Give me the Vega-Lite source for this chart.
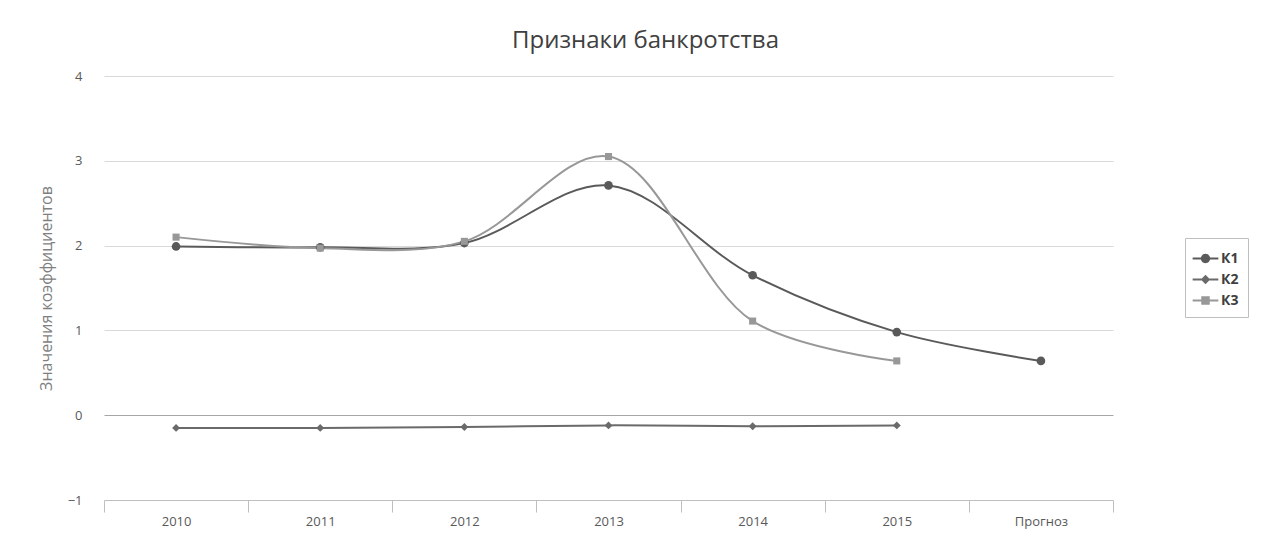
{
  "$schema": "https://vega.github.io/schema/vega-lite/v6.json",
  "width": 1009,
  "height": 424,
  "autosize": {"type": "none"},
  "padding": {"left": 104, "top": 76, "right": 160, "bottom": 49},
  "background": "white",
  "config": {"view": {"stroke": null}, "font": "Open Sans"},
  "title": {"text": "Признаки банкротства", "fontSize": 24, "fontWeight": "normal", "color": "#404040", "font": "Open Sans", "dx": 37, "offset": 17},
  "data": {"values": [
    {"year": "2010", "series": "К1", "value": 1.99},
    {"year": "2011", "series": "К1", "value": 1.98},
    {"year": "2012", "series": "К1", "value": 2.03},
    {"year": "2013", "series": "К1", "value": 2.71},
    {"year": "2014", "series": "К1", "value": 1.65},
    {"year": "2015", "series": "К1", "value": 0.98},
    {"year": "Прогноз", "series": "К1", "value": 0.64},
    {"year": "2010", "series": "К2", "value": -0.15},
    {"year": "2011", "series": "К2", "value": -0.15},
    {"year": "2012", "series": "К2", "value": -0.14},
    {"year": "2013", "series": "К2", "value": -0.12},
    {"year": "2014", "series": "К2", "value": -0.13},
    {"year": "2015", "series": "К2", "value": -0.12},
    {"year": "2010", "series": "К3", "value": 2.10},
    {"year": "2011", "series": "К3", "value": 1.97},
    {"year": "2012", "series": "К3", "value": 2.05},
    {"year": "2013", "series": "К3", "value": 3.05},
    {"year": "2014", "series": "К3", "value": 1.11},
    {"year": "2015", "series": "К3", "value": 0.64}
  ]},
  "encoding": {
    "x": {
      "field": "year", "type": "ordinal",
      "sort": ["2010", "2011", "2012", "2013", "2014", "2015", "Прогноз"],
      "scale": {"type": "band", "paddingInner": 0, "paddingOuter": 0},
      "axis": {"title": null, "labelAngle": 0, "domainColor": "#bfbfbf", "tickColor": "#bfbfbf", "tickSize": 12, "labelPadding": 3, "labelFontSize": 13, "labelColor": "#595959", "tickBand": "extent", "grid": false}
    },
    "y": {
      "field": "value", "type": "quantitative",
      "scale": {"domain": [-1, 4], "nice": false, "zero": false},
      "axis": {
        "values": [-1, 0, 1, 2, 3, 4],
        "grid": true,
        "gridColor": {"condition": {"test": "datum.value === 0", "value": "#a6a6a6"}, "value": "#d9d9d9"},
        "gridOpacity": {"condition": {"test": "datum.value === -1", "value": 0}, "value": 1},
        "domain": false, "ticks": false, "labelPadding": 22, "labelFontSize": 13, "labelColor": "#595959",
        "title": "Значения коэффициентов", "titleFontSize": 16, "titleFontWeight": "normal", "titleColor": "#7f7f7f", "titlePadding": 13
      }
    }
  },
  "layer": [
    {
      "mark": {"type": "line", "interpolate": "catmull-rom", "strokeWidth": 2},
      "encoding": {
        "color": {"field": "series", "type": "nominal", "scale": {"domain": ["К1", "К2", "К3"], "range": ["#5a5a5a", "#6a6a6a", "#989898"]}, "legend": null}
      }
    },
    {
      "mark": {"type": "point", "filled": true, "opacity": 1},
      "encoding": {
        "color": {"field": "series", "type": "nominal", "scale": {"domain": ["К1", "К2", "К3"], "range": ["#5a5a5a", "#6a6a6a", "#989898"]}, "legend": null},
        "shape": {"field": "series", "type": "nominal", "scale": {"domain": ["К1", "К2", "К3"], "range": ["circle", "diamond", "square"]}, "legend": null},
        "size": {"field": "series", "type": "nominal", "scale": {"domain": ["К1", "К2", "К3"], "range": [75, 50, 80]}, "legend": null}
      }
    },
    {
      "transform": [{"filter": "false"}],
      "mark": {"type": "point", "filled": true, "opacity": 1},
      "encoding": {
        "color": {"field": "series", "type": "nominal", "scale": {"domain": ["К1", "К2", "К3"], "range": ["#5a5a5a", "#6a6a6a", "#989898"]},
          "legend": {"title": null, "orient": "none", "legendX": 1081, "legendY": 162, "strokeColor": "#bfbfbf", "padding": 9, "symbolSize": 500, "symbolOpacity": 1, "labelFontSize": 14, "labelFontWeight": "bold", "labelColor": "#404040", "labelFont": "Open Sans", "rowPadding": 2, "labelOffset": 4, "symbolStrokeWidth": 0,
            "labelExpr": "datum.label + '\u00a0\u00a0\u00a0'",
            "encode": {"symbols": {"update": {"opacity": {"value": 1}}}}}},
        "shape": {"field": "series", "type": "nominal", "scale": {"domain": ["К1", "К2", "К3"], "range": [
          "M-1.15,-0.09H-0.36V0.09H-1.15Z M0.36,-0.09H1.15V0.09H0.36Z M0,-0.42A0.42,0.42 0 1,1 0,0.42A0.42,0.42 0 1,1 0,-0.42Z",
          "M-1.15,-0.09H-0.36V0.09H-1.15Z M0.36,-0.09H1.15V0.09H0.36Z M0,-0.42L0.42,0L0,0.42L-0.42,0Z",
          "M-1.15,-0.09H-0.36V0.09H-1.15Z M0.36,-0.09H1.15V0.09H0.36Z M-0.38,-0.38H0.38V0.38H-0.38Z"
        ]}}
      }
    }
  ],
  "resolve": {"scale": {"color": "independent", "shape": "independent", "size": "independent"}}
}
